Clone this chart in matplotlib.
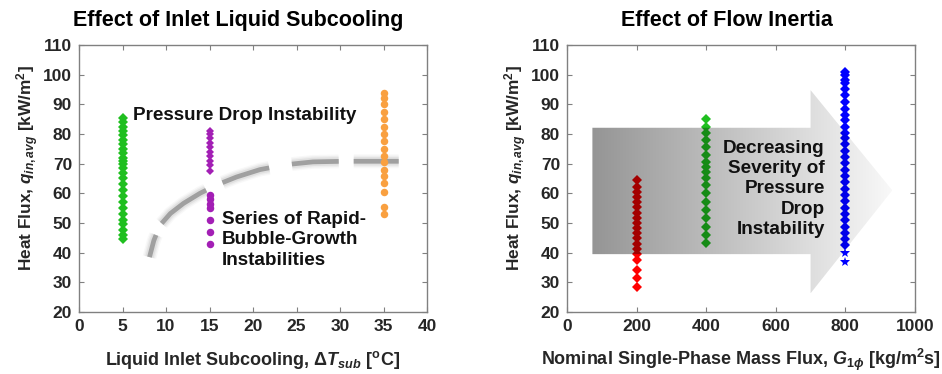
import matplotlib
matplotlib.use("Agg")
import matplotlib.pyplot as plt
import numpy as np
from matplotlib.patches import Polygon

plt.rcParams['font.family'] = ['Liberation Sans', 'DejaVu Sans']
plt.rcParams['font.weight'] = 'bold'
plt.rcParams['axes.labelweight'] = 'bold'
plt.rcParams['mathtext.fontset'] = 'custom'
plt.rcParams['mathtext.rm'] = 'Liberation Sans:bold'
plt.rcParams['mathtext.it'] = 'Liberation Sans:bold:italic'
plt.rcParams['mathtext.bf'] = 'Liberation Sans:bold'
plt.rcParams['lines.scale_dashes'] = False

# ---- left panel: effect of inlet subcooling ----
sub_green = 5
q_green = [44.5, 46, 47.5, 49.5, 51, 53, 55, 57, 59, 61, 63, 65, 67, 68.5, 70, 71,
           72, 73.5, 75, 76.5, 78, 79.5, 81, 82.5, 84, 85.5]
sub_purple = 15
q_purple_pdi = [67.5, 69.5, 71, 72.5, 74, 75.5, 77, 78.5, 80, 81]
q_purple_rbg = [43, 47, 51, 55, 56.5, 58, 59.5]
sub_orange = 35
q_orange = [53, 55.3, 60.5, 63.5, 66, 68, 70.5, 72.5, 75, 77.5, 80, 82.5, 85, 87.5,
            90, 92.2, 93.8]

# sketched boundary between the two regimes
bound_x = [8.1, 8.6, 9.3, 10.5, 12.0, 13.9, 15.8, 18.1, 20.8, 23.9, 26.9, 30.4, 36.9]
bound_y = [38.5, 44.1, 49.2, 53.2, 56.6, 60.0, 62.8, 65.5, 68.0, 69.7, 70.6, 70.8, 70.8]

# ---- right panel: effect of flow inertia ----
g_red = 200
q_red = [28.5, 31.4, 34.2, 37.5, 39.5, 41.3, 43, 44.8, 46.5, 48.3, 50, 51.8, 53.5,
         55.3, 57, 58.8, 60.5, 62.3, 64.5]
g_green = 400
q_green2 = [43.2, 46, 48.8, 51.6, 54.4, 57.2, 60, 62.8, 65.1, 67.3, 69, 70.7, 72.9,
            75.7, 78, 80.2, 82.5, 84.9]
g_blue = 800
q_blue = [42.5, 44.5, 46.5, 48.8, 51, 53, 55, 57.3, 59.5, 61.5, 63.9, 66, 68, 70.1,
          72.2, 74.3, 76.5, 78.5, 80.5, 82.5, 84.7, 86.5, 88.5, 90.9, 93, 95, 97.1,
          98.2, 99.9, 101]
q_blue_star = [37.0, 39.8]

arrow_x = [73, 700, 700, 935, 700, 700, 73]
arrow_y = [39.5, 39.5, 26.3, 61, 94.8, 82.1, 82.1]

fig = plt.figure(figsize=(9.42, 3.74), dpi=100)
ax1 = fig.add_axes([0.0839, 0.1658, 0.3694, 0.7139])
ax2 = fig.add_axes([0.6019, 0.1658, 0.3694, 0.7139])

spine_c = '#808080'
txt_c = '#262626'
for ax in (ax1, ax2):
    for s in ax.spines.values():
        s.set_color(spine_c)
        s.set_linewidth(1.0)
    ax.tick_params(direction='in', top=True, right=True, length=3.5, width=0.8,
                   color=spine_c, labelsize=12.5, labelcolor=txt_c, pad=5)
    ax.set_ylim(20, 110)
    ax.set_yticks(np.arange(20, 111, 10))

# left
ax1.set_xlim(0, 40)
ax1.set_xticks(np.arange(0, 41, 5))
# hand-drawn look: uneven dash lengths (points)
dash = (0, (16.6, 9.4, 40.3, 13, 35.3, 16.6, 33.8, 10.8, 32.4, 14.4))
for lw, a in [(10, 0.05), (8, 0.08), (6, 0.12)]:
    ax1.plot(bound_x, bound_y, color='#808080', lw=lw, alpha=a, linestyle=dash,
             dash_capstyle='butt', zorder=1)
ax1.plot(bound_x, bound_y, color='#a0a0a0', lw=3.4, linestyle=dash,
         dash_capstyle='butt', zorder=1.5)
ax1.plot([sub_green] * len(q_green), q_green, 'D', color='#1fbf1f', ms=4.6, mew=0, zorder=3)
ax1.plot([sub_purple] * len(q_purple_pdi), q_purple_pdi, 'D', color='#a31fb5', ms=4.4,
         mew=0, zorder=3)
ax1.plot([sub_purple] * len(q_purple_rbg), q_purple_rbg, 'o', color='#a31fb5', ms=5.4,
         mew=0, zorder=3)
ax1.plot([sub_orange] * len(q_orange), q_orange, 'o', color='#f9a040', ms=5.4, mew=0,
         zorder=3)
ax1.text(6.2, 86.4, 'Pressure Drop Instability', fontsize=13.6, color='#111111',
         ha='left', va='center', zorder=4)
ax1.text(16.4, 54.0, 'Series of Rapid-\nBubble-Growth\nInstabilities', fontsize=13.6,
         color='#111111', ha='left', va='top', linespacing=1.25, zorder=4)
ax1.set_title('Effect of Inlet Liquid Subcooling', fontsize=15.5, fontweight='bold',
              x=0.458, pad=14)
ax1.set_xlabel(r'Liquid Inlet Subcooling, $\Delta\mathit{T}_{\mathit{sub}}$ [$^{\mathrm{o}}$C]',
               fontsize=13, color=txt_c, va='center')
ax1.xaxis.set_label_coords(0.5, -0.18)
ax1.set_ylabel(r'Heat Flux, $\mathit{q}_{\mathit{in,avg}}$ [kW/m$^{\mathrm{2}}$]',
               fontsize=12.4, color=txt_c, va='center')
ax1.yaxis.set_label_coords(-0.148, 0.54)

# right
ax2.set_xlim(0, 1000)
ax2.set_xticks(np.arange(0, 1001, 200))
ax2.plot([g_red] * len(q_red), q_red, 'D', color='#ff0000', ms=4.6, mew=0, zorder=2)
ax2.plot([g_green] * len(q_green2), q_green2, 'D', color='#1fbf1f', ms=4.6, mew=0, zorder=2)
ax2.plot([g_blue] * len(q_blue), q_blue, 'D', color='#0000ff', ms=4.6, mew=0, zorder=2)
ax2.plot([g_blue] * len(q_blue_star), q_blue_star, '*', color='#0000ff', ms=7, mew=0,
         zorder=2)

# translucent gradient arrow drawn over the markers
grad = np.zeros((2, 256, 4))
grad[..., 3] = np.linspace(0.42, 0.03, 256)
arrow = Polygon(np.column_stack([arrow_x, arrow_y]), closed=True, transform=ax2.transData,
                facecolor='none', edgecolor='none')
ax2.add_patch(arrow)
im = ax2.imshow(grad, extent=[min(arrow_x), max(arrow_x), min(arrow_y), max(arrow_y)],
                aspect='auto', origin='lower', interpolation='bilinear', zorder=3)
im.set_clip_path(arrow)
ax2.set_xlim(0, 1000)
ax2.set_ylim(20, 110)
ax2.text(741, 78.0, 'Decreasing\nSeverity of\nPressure\nDrop\nInstability', fontsize=13.6,
         color='#111111', ha='right', va='top', multialignment='right', linespacing=1.25,
         zorder=4)
ax2.set_title('Effect of Flow Inertia', fontsize=15.5, fontweight='bold', x=0.46, pad=14)
ax2.set_xlabel(r'Nominal Single-Phase Mass Flux, $\mathit{G}_{\mathit{1\phi}}$ [kg/m$^{\mathrm{2}}$s]',
               fontsize=13, color=txt_c, va='center')
ax2.xaxis.set_label_coords(0.5, -0.18)
ax2.set_ylabel(r'Heat Flux, $\mathit{q}_{\mathit{in,avg}}$ [kW/m$^{\mathrm{2}}$]',
               fontsize=12.4, color=txt_c, va='center')
ax2.yaxis.set_label_coords(-0.148, 0.54)

fig.savefig('out.png', dpi=100)
